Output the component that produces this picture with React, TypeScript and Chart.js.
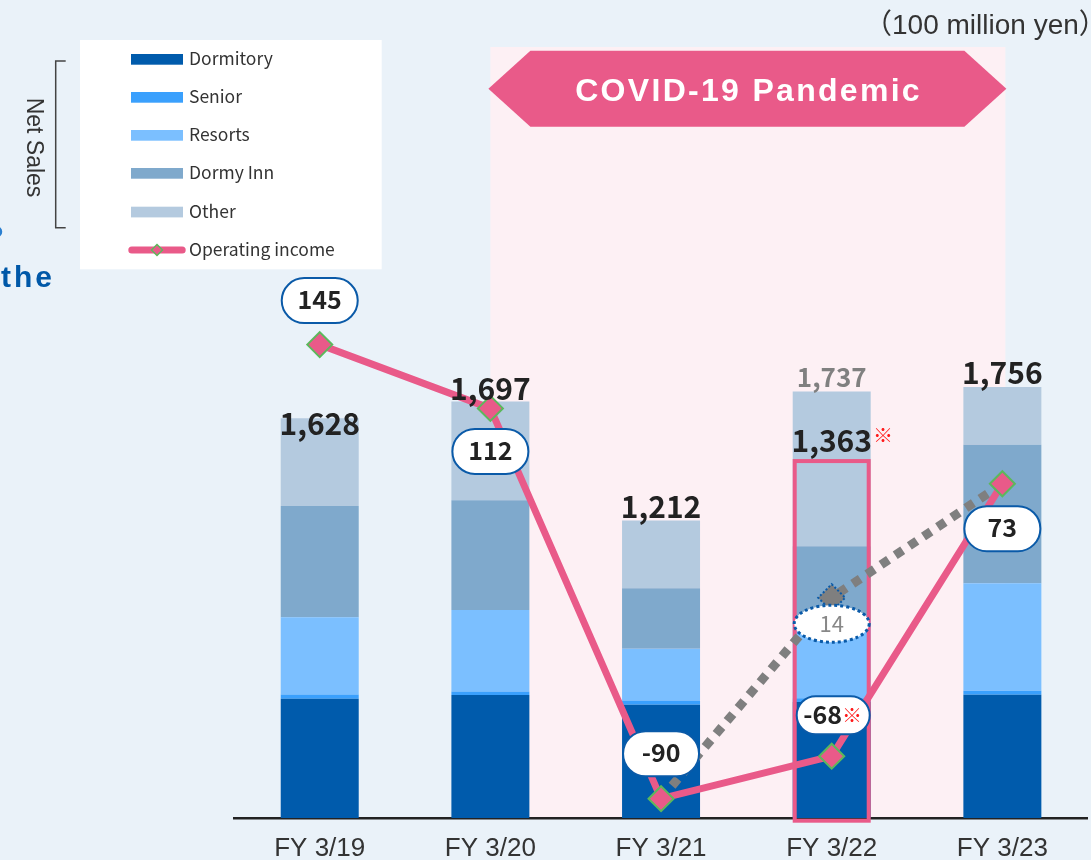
import React, { useEffect, useRef } from 'react';
import { Chart, registerables } from 'chart.js';

Chart.register(...registerables);

// ---------- data ----------
const categories = ['FY 3/19', 'FY 3/20', 'FY 3/21', 'FY 3/22', 'FY 3/23'];
const dormitory = [486, 501, 461, 472, 502];
const senior = [17, 14, 18, 16, 16];
const resorts = [315, 332, 210, 318, 438];
const dormyInn = [453, 447, 247, 301, 564];
const other = [357, 403, 276, 630, 236];
const netSalesTotals = [1628, 1697, 1212, 1737, 1756];
const netSalesLabels = ['1,628', '1,697', '1,212', '1,737', '1,756'];
const revisedSalesLabel = '1,363';
const revisedBoxTop = 1462;
const operatingIncome = [145, 112, -90, -68, 73];
const operatingIncomeLabels = ['145', '112', '-90', '-68', '73'];
const previousStandardIncome = [null, null, -90, 14, 73];
const previousStandardLabel = '14';
const seriesNames = ['Dormitory', 'Senior', 'Resorts', 'Dormy Inn', 'Other'];
const lineName = 'Operating income';
const covidStartIndex = 1;
const covidEndIndex = 4;
const covidText = 'COVID-19 Pandemic';
const unitText = '（100 million yen）';
const netSalesText = 'Net Sales';

// ---------- style ----------
const barColors = ['#005bac', '#3aa0fd', '#7bbfff', '#7fa9cc', '#b4cadf'];
const PINK = '#e95a89';
const GREEN = '#5cb85c';
const BLUE_BORDER = '#0a5aa8';
const FONT_JP = '"Noto Sans CJK JP", "Noto Sans", sans-serif';
const FONT_LAT = '"Liberation Sans", Arial, "Noto Sans CJK JP", sans-serif';
const totalLabelDy = [17, -1, -2, -5, -3];
const pillDy = [-44, 43, -45, -41, 45];

function pill(ctx: any, cx: number, cy: number, w: number, h: number) {
  ctx.beginPath();
  ctx.roundRect(cx - w / 2, cy - h / 2, w, h, h / 2);
  ctx.fillStyle = '#ffffff';
  ctx.fill();
  ctx.lineWidth = 2;
  ctx.strokeStyle = BLUE_BORDER;
  ctx.stroke();
}

function diamond(ctx: any, cx: number, cy: number, r: number) {
  ctx.beginPath();
  ctx.moveTo(cx, cy - r);
  ctx.lineTo(cx + r, cy);
  ctx.lineTo(cx, cy + r);
  ctx.lineTo(cx - r, cy);
  ctx.closePath();
}

const overlayPlugin = {
  id: 'overlay',
  beforeDraw(chart: any) {
    const { ctx, chartArea, scales } = chart;
    const xs = scales.x;
    ctx.save();
    ctx.fillStyle = '#eaf2f9';
    ctx.fillRect(0, 0, chart.width, chart.height);
    const x1 = xs.getPixelForValue(covidStartIndex);
    const x2 = xs.getPixelForValue(covidEndIndex);
    ctx.fillStyle = '#fdf0f4';
    ctx.fillRect(x1, 47, x2 - x1 + 3, chartArea.bottom - 47);
    // banner
    const top = 50.7, bottom = 126.7, mid = (top + bottom) / 2;
    const l = x1 - 2, r = x2 + 4, ind = 42;
    ctx.beginPath();
    ctx.moveTo(l, mid);
    ctx.lineTo(l + ind, top);
    ctx.lineTo(r - ind, top);
    ctx.lineTo(r, mid);
    ctx.lineTo(r - ind, bottom);
    ctx.lineTo(l + ind, bottom);
    ctx.closePath();
    ctx.fillStyle = PINK;
    ctx.fill();
    ctx.fillStyle = '#ffffff';
    ctx.font = `bold 32px ${FONT_LAT}`;
    ctx.letterSpacing = '2.3px';
    ctx.textAlign = 'center';
    ctx.textBaseline = 'alphabetic';
    ctx.fillText(covidText, (l + r) / 2 + 1.2, 101);
    ctx.letterSpacing = '0px';
    ctx.restore();
  },
  beforeDatasetDraw(chart: any, args: any) {
    if (args.index !== 1) return;
    const { ctx, chartArea, scales } = chart;
    const bar = chart.getDatasetMeta(2).data[3];
    const w = bar.width;
    const left = bar.x - w / 2;
    const top = scales.y.getPixelForValue(revisedBoxTop);
    const bottom = chartArea.bottom + 4.7;
    ctx.save();
    ctx.strokeStyle = PINK;
    ctx.lineWidth = 4;
    ctx.strokeRect(left + 2, top + 2, w - 4, bottom - top - 4);
    ctx.restore();
  },
  afterDatasetsDraw(chart: any) {
    const { ctx, scales } = chart;
    const xs = scales.x, ys = scales.y;
    ctx.save();
    // dotted border around previous-standard diamond
    const gp = chart.getDatasetMeta(1).data[3];
    ctx.setLineDash([2, 2]);
    ctx.lineWidth = 2;
    ctx.strokeStyle = BLUE_BORDER;
    diamond(ctx, gp.x, gp.y, 13.5);
    ctx.stroke();
    // ellipse label 14
    const ey = gp.y + 26;
    ctx.beginPath();
    ctx.ellipse(gp.x, ey, 37.5, 18.5, 0, 0, Math.PI * 2);
    ctx.fillStyle = '#ffffff';
    ctx.fill();
    ctx.setLineDash([3, 3]);
    ctx.lineWidth = 3;
    ctx.stroke();
    ctx.setLineDash([]);
    ctx.fillStyle = '#888888';
    ctx.font = `22px ${FONT_JP}`;
    ctx.textAlign = 'center';
    ctx.textBaseline = 'alphabetic';
    ctx.fillText(previousStandardLabel, gp.x, ey + 8.5);

    // operating income pills
    const pts = chart.getDatasetMeta(0).data;
    operatingIncome.forEach((v, i) => {
      const p = pts[i];
      const cy = p.y + pillDy[i];
      const isRev = i === 3;
      const cx = p.x + (isRev ? 1.5 : 0);
      pill(ctx, cx, cy, isRev ? 73 : 76, isRev ? 38 : 45);
      ctx.font = `bold 25px ${FONT_JP}`;
      ctx.fillStyle = '#222222';
      ctx.textBaseline = 'alphabetic';
      if (isRev) {
        const t = operatingIncomeLabels[i];
        const tw = ctx.measureText(t).width;
        ctx.font = `20px ${FONT_JP}`;
        const mw = ctx.measureText('※').width;
        const start = cx - (tw + mw + 1) / 2;
        ctx.font = `bold 25px ${FONT_JP}`;
        ctx.textAlign = 'left';
        ctx.fillText(t, start, cy + 8.5);
        ctx.font = `20px ${FONT_JP}`;
        ctx.fillStyle = '#ff1a1a';
        ctx.fillText('※', start + tw, cy + 8);
      } else {
        ctx.textAlign = 'center';
        ctx.fillText(operatingIncomeLabels[i], cx, cy + 8.3);
      }
    });

    // net sales totals
    netSalesTotals.forEach((t, i) => {
      const cx = xs.getPixelForValue(i);
      const yTop = ys.getPixelForValue(t);
      const isRev = i === 3;
      ctx.font = isRev ? `bold 26px ${FONT_JP}` : `bold 30px ${FONT_JP}`;
      ctx.fillStyle = isRev ? '#808080' : '#222222';
      ctx.textAlign = 'center';
      ctx.textBaseline = 'alphabetic';
      ctx.fillText(netSalesLabels[i], cx, yTop + totalLabelDy[i]);
      if (isRev) {
        const by = ys.getPixelForValue(revisedBoxTop) - 7.3;
        ctx.font = `bold 30px ${FONT_JP}`;
        ctx.fillStyle = '#222222';
        ctx.fillText(revisedSalesLabel, cx, by);
        const tw = ctx.measureText(revisedSalesLabel).width;
        ctx.font = `20px ${FONT_JP}`;
        ctx.fillStyle = '#ff1a1a';
        ctx.textAlign = 'left';
        ctx.fillText('※', cx + tw / 2 + 1, by - 8.5);
      }
    });
    ctx.restore();
  },
  afterDraw(chart: any) {
    const { ctx } = chart;
    ctx.save();
    // legend box
    ctx.fillStyle = '#ffffff';
    ctx.fillRect(80, 40, 301.7, 229.3);
    const rows = [59.3, 97.3, 135.3, 173.3, 212, 250];
    ctx.font = `17.5px ${FONT_JP}`;
    ctx.textAlign = 'left';
    ctx.textBaseline = 'alphabetic';
    seriesNames.forEach((n, i) => {
      ctx.fillStyle = barColors[i];
      ctx.fillRect(131, rows[i] - 5.3, 52, 10.7);
      ctx.fillStyle = '#333333';
      ctx.fillText(n, 189, rows[i] + 5.5);
    });
    const ly = rows[5];
    ctx.strokeStyle = PINK;
    ctx.lineWidth = 7;
    ctx.lineCap = 'round';
    ctx.beginPath();
    ctx.moveTo(131.8, ly);
    ctx.lineTo(182.2, ly);
    ctx.stroke();
    ctx.lineCap = 'butt';
    diamond(ctx, 157, ly, 5.5);
    ctx.fillStyle = PINK;
    ctx.fill();
    ctx.lineWidth = 1.5;
    ctx.strokeStyle = GREEN;
    ctx.stroke();
    ctx.fillStyle = '#333333';
    ctx.fillText(lineName, 189, ly + 5.5);

    // Net Sales bracket
    ctx.strokeStyle = '#444444';
    ctx.lineWidth = 1.5;
    ctx.beginPath();
    ctx.moveTo(65.7, 61);
    ctx.lineTo(55.7, 61);
    ctx.lineTo(55.7, 227.7);
    ctx.lineTo(65.7, 227.7);
    ctx.stroke();
    ctx.save();
    ctx.translate(33.2, 147.5);
    ctx.rotate(Math.PI / 2);
    ctx.font = `23px ${FONT_LAT}`;
    ctx.fillStyle = '#333333';
    ctx.textAlign = 'center';
    ctx.textBaseline = 'middle';
    ctx.fillText(netSalesText, 0, 0);
    ctx.restore();

    // cut-off text fragments at left edge
    ctx.fillStyle = '#0058a8';
    ctx.font = `bold 30px ${FONT_LAT}`;
    ctx.letterSpacing = '3px';
    ctx.textAlign = 'left';
    ctx.fillText('the', 1, 287);
    ctx.letterSpacing = '0px';
    ctx.beginPath();
    ctx.arc(-3.5, 231.7, 4.5, -Math.PI / 2, Math.PI / 2);
    ctx.lineWidth = 2.5;
    ctx.strokeStyle = '#2a7fd0';
    ctx.stroke();

    // unit
    ctx.fillStyle = '#333333';
    ctx.font = `28px ${FONT_LAT}`;
    ctx.textAlign = 'left';
    ctx.fillText(unitText, 864, 34.3);
    ctx.restore();
  },
};

export default function App() {
  const ref = useRef<HTMLCanvasElement | null>(null);
  useEffect(() => {
    if (!ref.current) return;
    const barSets = [dormitory, senior, resorts, dormyInn, other].map((d, i) => ({
      type: 'bar' as const,
      label: seriesNames[i],
      data: d,
      backgroundColor: barColors[i],
      borderWidth: 0,
      yAxisID: 'y',
      order: 2,
      barPercentage: 0.457,
      categoryPercentage: 1,
    }));
    const chart = new Chart(ref.current, {
      type: 'bar',
      data: {
        labels: categories,
        datasets: [
          {
            type: 'line',
            label: lineName,
            data: operatingIncome,
            yAxisID: 'y1',
            order: 0,
            borderColor: PINK,
            borderWidth: 7,
            borderJoinStyle: 'round',
            tension: 0,
            pointStyle: 'rectRot',
            pointRadius: 12.5,
            pointBackgroundColor: PINK,
            pointBorderColor: GREEN,
            pointBorderWidth: 2,
          } as any,
          {
            type: 'line',
            label: 'Previous standard',
            data: previousStandardIncome,
            yAxisID: 'y1',
            order: 1,
            borderColor: '#7f7f7f',
            borderWidth: 9,
            borderDash: [9, 8],
            borderCapStyle: 'butt',
            tension: 0,
            spanGaps: false,
            pointStyle: 'rectRot',
            pointRadius: [0, 0, 0, 13.5, 0],
            pointBackgroundColor: '#7f7f7f',
            pointBorderWidth: 0,
          } as any,
          ...barSets,
        ],
      },
      options: {
        responsive: false,
        maintainAspectRatio: false,
        devicePixelRatio: 1,
        animation: false,
        events: [],
        layout: { autoPadding: false, padding: { left: 234.4, right: 3.3, top: 100, bottom: -20 } },
        plugins: { legend: { display: false }, tooltip: { enabled: false } },
        scales: {
          x: {
            stacked: true,
            offset: true,
            grid: { display: false, drawTicks: false },
            border: { display: true, color: '#222222', width: 2.5 },
            ticks: {
              color: '#333333',
              padding: 20,
              font: { family: FONT_LAT, size: 26, lineHeight: 22 / 26 },
            },
          },
          y: { stacked: true, display: false, min: 0, max: 2924.6 },
          y1: { stacked: false, display: false, min: -100, max: 271.6 },
        },
      } as any,
      plugins: [overlayPlugin as any],
    });
    return () => chart.destroy();
  }, []);
  return (
    <div style={{ position: 'absolute', left: 0, top: 0, width: 1091, height: 860 }}>
      <canvas ref={ref} width={1091} height={860} style={{ display: 'block', width: 1091, height: 860 }} />
    </div>
  );
}
